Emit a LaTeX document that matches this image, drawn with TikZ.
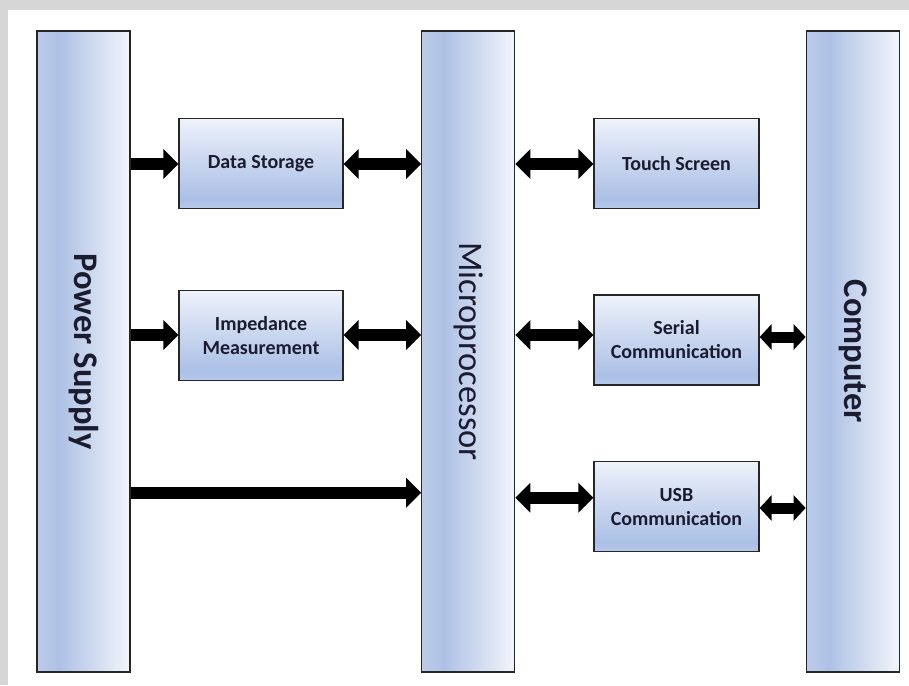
\documentclass[tikz,border=0pt]{standalone}
\usepackage{fontspec}
\setmainfont{Carlito}
\usetikzlibrary{arrows.meta}
\definecolor{bgray}{HTML}{D6D6D6}
\definecolor{barL}{HTML}{BCCBE9}
\definecolor{barD}{HTML}{AEC1E5}
\definecolor{barR}{HTML}{F2F5FB}
\definecolor{boxB}{HTML}{B8C9EA}
\definecolor{boxD}{HTML}{ABC0E6}
\definecolor{boxM}{HTML}{C8D5EF}
\definecolor{boxT}{HTML}{EEF2FA}
\definecolor{edge}{HTML}{262626}
\definecolor{txt}{HTML}{1C1C30}
\pgfdeclarehorizontalshading{barshade}{100bp}{color(0bp)=(barL); color(25bp)=(barL); color(37bp)=(barD); color(75bp)=(barR); color(100bp)=(barR)}
\pgfdeclareverticalshading{boxshade}{100bp}{color(0bp)=(boxB); color(25bp)=(boxB); color(30bp)=(boxD); color(50bp)=(boxM); color(75bp)=(boxT); color(100bp)=(boxT)}
\tikzset{
  bar/.style={draw=edge, line width=1.2pt, shading=barshade, minimum width=93pt, minimum height=641pt, inner sep=0pt},
  blk/.style={draw=edge, line width=1.2pt, shading=boxshade, minimum width=164pt, minimum height=90pt, inner sep=0pt, align=center, font=\fontsize{20}{24}\selectfont\bfseries, text=txt},
  barlabel/.style={rotate=-90, font=\fontsize{34.5}{40}\selectfont, text=txt, inner sep=0pt},
  bigarrow/.style={line width=12pt, draw=black},
  tipR/.style={-{Triangle[length=15pt,width=29pt]}},
  tipLR/.style={{Triangle[length=15pt,width=29pt]}-{Triangle[length=15pt,width=29pt]}},
  tipLRs/.style={line width=11pt, {Triangle[length=12pt,width=25pt]}-{Triangle[length=12pt,width=25pt]}}
}
\begin{document}
\begin{tikzpicture}[x=1pt,y=-1pt]
\useasboundingbox (0,0) rectangle (909,685);
\fill[bgray] (0,0) rectangle (909,685);
\fill[white] (8,10) rectangle (909,685);

% tall bars
\node[bar] (ps) at (83.5,351.5) {};
\node[bar] (mp) at (468.25,351.5) {};
\node[bar] (pc) at (852.75,351.5) {};
\node[barlabel, font=\fontsize{34.5}{40}\selectfont\bfseries] (pslbl) at (ps.center) {Power Supply};
\node[barlabel] (mplbl) at (mp.center) {Microprocessor};
\node[barlabel, font=\fontsize{34.5}{40}\selectfont\bfseries] (pclbl) at (pc.center) {Computer};

% blocks
\node[blk] (ds) at (261,163.5) {Data Storage};
\node[blk] (im) at (261,335.5) {Impedance\\Measurement};
\node[blk, minimum width=165pt] (ts) at (676.5,163.5) {Touch Screen};
\node[blk, minimum width=165pt] (sc) at (676.5,340) {Serial\\Communication};
\node[blk, minimum width=165pt] (usb) at (676.5,506.7) {USB\\Communication};

% arrow levels
\coordinate (y1) at (0,164);
\coordinate (y2) at (0,335);
\coordinate (y3) at (0,492.7);
\coordinate (y4) at (0,497.7);
\coordinate (y5) at (0,337);
\coordinate (y6) at (0,508);

\draw[bigarrow, tipR] (ps.east |- y1) -- (ds.west |- y1);
\draw[bigarrow, tipLR] (ds.east |- y1) -- (mp.west |- y1);
\draw[bigarrow, tipR] (ps.east |- y2) -- (im.west |- y2);
\draw[bigarrow, tipLR] (im.east |- y2) -- (mp.west |- y2);
\draw[bigarrow, tipR] (ps.east |- y3) -- (mp.west |- y3);

\draw[bigarrow, tipLR] (mp.east |- y1) -- (ts.west |- y1);
\draw[bigarrow, tipLR] (mp.east |- y2) -- (sc.west |- y2);
\draw[bigarrow, tipLR] (mp.east |- y4) -- (usb.west |- y4);
\draw[bigarrow, tipLRs] (sc.east |- y5) -- (pc.west |- y5);
\draw[bigarrow, tipLRs] (usb.east |- y6) -- (pc.west |- y6);
\end{tikzpicture}
\end{document}
